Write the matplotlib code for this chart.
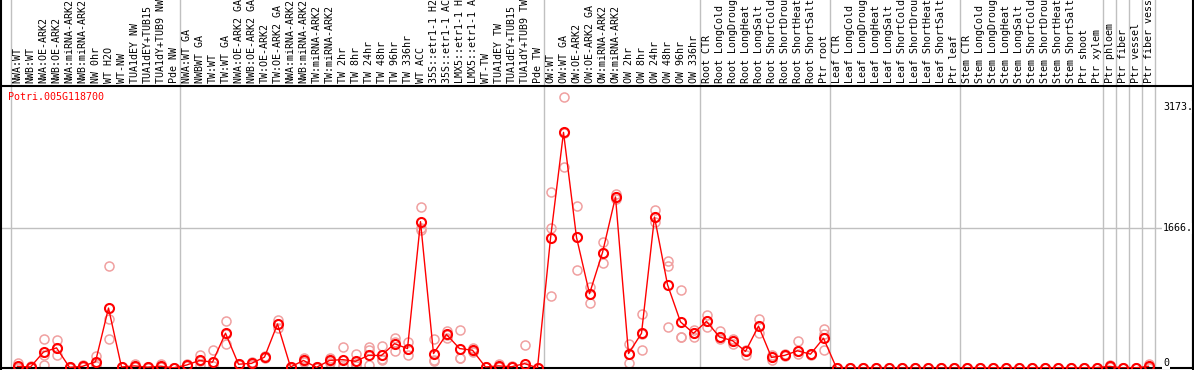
import matplotlib
matplotlib.use("Agg")
import matplotlib.pyplot as plt
from matplotlib.lines import Line2D

# labels as shown (the chart cuts them at 14 characters)
labels = [
    "NWA:WT", "NWB:WT", "NWA:OE-ARK2", "NWB:OE-ARK2", "NWA:miRNA-ARK2", "NWB:miRNA-ARK2",
    "NW 0hr", "WT H2O", "WT-NW", "TUA1dEY NW", "TUA1dEY+TUB15", "TUA1dY+TUB9 NW", "Pde NW",
    "NWA:WT GA", "NWBWT GA", "TW:WT", "TW:WT GA", "NWA:OE-ARK2 GA", "NWB:OE-ARK2 GA",
    "TW:OE-ARK2", "TW:OE-ARK2 GA", "NWA:miRNA-ARK2", "NWB:miRNA-ARK2", "TW:miRNA-ARK2",
    "TW:miRNA-ARK2", "TW 2hr", "TW 8hr", "TW 24hr", "TW 48hr", "TW 96hr", "TW 336hr",
    "WT ACC", "35S::etr1-1 H2", "35S::etr1-1 AC", "LMX5::etr1-1 H", "LMX5::etr1-1 A",
    "WT-TW", "TUA1dEY TW", "TUA1dEY+TUB15", "TUA1dY+TUB9 TW", "Pde TW",
    "OW:WT", "OW:WT GA", "OW:OE-ARK2", "OW:OE-ARK2 GA", "OW:miRNA-ARK2", "OW:miRNA-ARK2",
    "OW 2hr", "OW 8hr", "OW 24hr", "OW 48hr", "OW 96hr", "OW 336hr",
    "Root CTR", "Root LongCold", "Root LongDroug", "Root LongHeat", "Root LongSalt",
    "Root ShortCold", "Root ShortDrou", "Root ShortHeat", "Root ShortSalt", "Ptr root",
    "Leaf CTR", "Leaf LongCold", "Leaf LongDroug", "Leaf LongHeat", "Leaf LongSalt",
    "Leaf ShortCold", "Leaf ShortDrou", "Leaf ShortHeat", "Leaf ShortSalt", "Ptr leaf",
    "Stem CTR", "Stem LongCold", "Stem LongDroug", "Stem LongHeat", "Stem LongSalt",
    "Stem ShortCold", "Stem ShortDrou", "Stem ShortHeat", "Stem ShortSalt", "Ptr shoot",
    "Ptr xylem", "Ptr phloem", "Ptr fiber", "Ptr vessel", "Ptr fiber vess",
]

means = [
    20, 12, 190, 240, 8, 20, 75, 715, 12, 25, 10, 22, 2,
    35, 90, 70, 415, 45, 55, 130, 525, 12, 90, 8, 90, 100, 80, 150, 150, 290, 232,
    1745, 172, 400, 232, 212, 12, 25, 15, 52, 2,
    1545, 2810, 1558, 886, 1377, 2040, 172, 414, 1800, 994, 550, 414,
    556, 370, 326, 198, 500, 126, 150, 205, 165, 355,
    0, 0, 0, 0, 0, 0, 0, 0, 0, 0,
    3, 3, 3, 3, 3, 3, 3, 3, 3, 3, 5,
    20, 0, 2, 20,
]

reps = [
    [55, 10, 0], [25, 8, 2], [345, 150, 30], [335, 150, 240], [10, 5, 8], [40, 10, 10],
    [140, 20, 60], [1220, 580, 340], [15, 10, 10], [45, 10, 15], [15, 5, 10], [45, 10, 10],
    [2, 2, 2],
    [50, 25, 30], [155, 30, 85], [215, 20, 70], [565, 290, 400], [50, 40, 45], [75, 40, 50],
    [140, 120, 130], [570, 480, 525], [10, 5, 15], [115, 80, 75], [8, 5, 10], [125, 80, 65],
    [245, 40, 15], [165, 50, 25], [245, 210, 30], [265, 110, 90], [360, 310, 200],
    [305, 230, 160], [1925, 1665, 1640], [340, 80, 100], [445, 390, 360], [455, 120, 120],
    [240, 200, 195], [12, 12, 12], [45, 15, 15], [20, 10, 15], [275, 10, 10], [2, 2, 2],
    [2100, 1672, 862], [3230, 2400, 2800], [1937, 1558, 1171], [971, 780, 886],
    [1503, 1251, 1377], [2070, 2020, 2040], [285, 54, 172], [644, 400, 214],
    [1880, 1745, 1800], [1276, 1220, 486], [932, 373, 365], [455, 370, 414],
    [630, 556, 490], [440, 340, 370], [340, 290, 326], [215, 160, 198], [585, 420, 500],
    [150, 100, 126], [165, 150, 140], [320, 165, 205], [170, 160, 165], [460, 400, 214],
    [0, 0, 0], [0, 0, 0], [0, 0, 0], [0, 0, 0], [0, 0, 0],
    [0, 0, 0], [0, 0, 0], [0, 0, 0], [0, 0, 0], [0, 0, 0],
    [3, 3, 3], [3, 3, 3], [3, 3, 3], [3, 3, 3], [3, 3, 3], [3, 3, 3],
    [3, 3, 3], [3, 3, 3], [3, 3, 3], [3, 3, 3], [5, 5, 5],
    [35, 15, 10], [0, 0, 0], [2, 2, 2], [45, 10, 5],
]

# first column index of each group
group_starts = [0, 13, 41, 53, 63, 73, 84, 85, 86, 87, 88]
ytick_vals = [3173, 1666, 0]
ytick_text = ["3173.", "1666.", "0"]
title = "Potri.005G118700"

W, H = 1194, 370
fig = plt.figure(figsize=(W / 100, H / 100), dpi=100)
top_px, bot_px = 86, 368
ax = fig.add_axes([0, (H - bot_px) / H, 1193 / W, (bot_px - top_px) / H])

n = len(labels)
x = list(range(n))
# column i centre sits at pixel 17.5 + 13 i
x0 = -17.5 / 13
x1 = (1193 - 17.5) / 13
ax.set_xlim(x0, x1)
ax.set_ylim(0, 3363)

for s in ax.spines.values():
    s.set_color("black")
    s.set_linewidth(1.5)
ax.set_xticks([])
ax.set_yticks([])

ax.axhline(1666, color="#c0c0c0", lw=1, zorder=0)
ext = 1 + top_px / (bot_px - top_px)
for g in group_starts:
    ax.axvline(g - 0.5 - 0.03, ymin=0, ymax=ext, color="#c0c0c0", lw=1,
               clip_on=False, zorder=0)

for i in x:
    ax.plot([i] * len(reps[i]), reps[i], "o", ms=6.5, mfc="none", mec="#f0a0a0",
            mew=1.1, zorder=2)
ax.plot(x, means, "-", color="red", lw=1, zorder=3)
ax.plot(x, means, "o", ms=6.5, mfc="none", mec="red", mew=1.5, zorder=4)

fs = 7.2
xt = ax.get_xaxis_transform()
for i, lab in enumerate(labels):
    ax.text(i, 1 + 3 / (bot_px - top_px), lab, rotation=90, ha="center", va="bottom",
            fontsize=fs, family="DejaVu Sans Mono", transform=xt, clip_on=False)

yt = ax.get_yaxis_transform()
for v, t in zip(ytick_vals, ytick_text):
    va = "top" if v == ytick_vals[0] else ("bottom" if v == 0 else "center")
    ax.text(1163 / 1193, v, t, ha="left", va=va, fontsize=fs,
            family="DejaVu Sans Mono", transform=yt,
            bbox=dict(fc="white", ec="none", pad=0.5))

ax.text(8 / 1193, 1 - 11 / (bot_px - top_px), title, color="red", fontsize=fs,
        family="DejaVu Sans Mono", transform=ax.transAxes, va="center", ha="left")

# outer border lines reaching into the header
fig.add_artist(Line2D([0.5 / W, 0.5 / W], [0, 1], color="black", lw=1.5))
fig.add_artist(Line2D([1193 / W, 1193 / W], [0, 1], color="black", lw=1.5))

fig.savefig("out.png", dpi=100)
